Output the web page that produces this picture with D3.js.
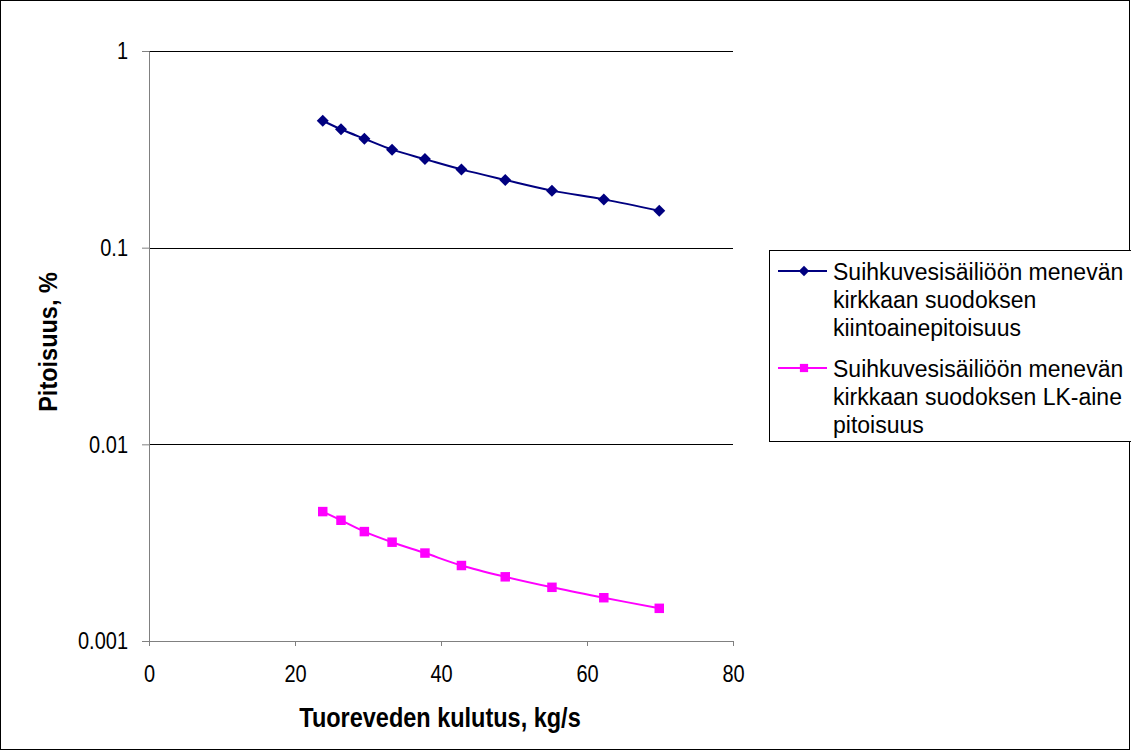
<!DOCTYPE html>
<html>
<head>
<meta charset="utf-8">
<script src="https://cdn.jsdelivr.net/npm/d3@7"></script>
<style>
  body { margin: 0; background: #fff; }
  text { font-family: "Liberation Sans", Arial, sans-serif; }
</style>
</head>
<body>
<div id="wrapper"></div>
<script>
// Values (log y axis)
const flow = [23.8, 26.3, 29.5, 33.3, 37.8, 42.8, 48.8, 55.2, 62.3, 69.9]
const solids = [0.442, 0.400, 0.358, 0.315, 0.282, 0.250, 0.221, 0.195, 0.176, 0.154]
const lkAine = [0.00455, 0.00411, 0.00360, 0.00318, 0.00280, 0.00242, 0.00212, 0.001875, 0.00166, 0.001466]
const xTicks = [0, 20, 40, 60, 80]
const yTicks = [0.001, 0.01, 0.1, 1]
const seriesNames = [
  ["Suihkuvesisäiliöön menevän", "kirkkaan suodoksen", "kiintoainepitoisuus"],
  ["Suihkuvesisäiliöön menevän", "kirkkaan suodoksen LK-aine", "pitoisuus"]
]

const dimensions = {
  width: 1131,
  height: 751,
  margin: { top: 51, right: 398, bottom: 110, left: 149 }
}
dimensions.boundedWidth = dimensions.width - dimensions.margin.left - dimensions.margin.right
dimensions.boundedHeight = dimensions.height - dimensions.margin.top - dimensions.margin.bottom

// the original axis text is a bit taller than it is wide
const tickStretch = 1.2
const titleStretch = 1.2

const wrapper = d3.select('#wrapper').append('svg')
  .attr('width', dimensions.width).attr('height', dimensions.height)

// outer chart border
wrapper.append('rect')
  .attr('x', 0.5).attr('y', 0.5)
  .attr('width', dimensions.width - 2).attr('height', dimensions.height - 2)
  .attr('fill', 'white').attr('stroke', 'black')

const bounds = wrapper.append('g')
  .attr('transform', `translate(${dimensions.margin.left},${dimensions.margin.top})`)

const xScale = d3.scaleLinear().domain([0, 80]).range([0, dimensions.boundedWidth])
const yScale = d3.scaleLog().domain([0.001, 1]).range([dimensions.boundedHeight, 0])

// gridlines
bounds.append('g').selectAll('line')
  .data(yTicks.filter(d => d > 0.001))
  .join('line')
  .attr('x1', 0).attr('x2', dimensions.boundedWidth)
  .attr('y1', d => Math.round(yScale(d)) + 0.5).attr('y2', d => Math.round(yScale(d)) + 0.5)
  .attr('stroke', 'black')

// axes
const yAxis = bounds.append('g')
  .call(d3.axisLeft(yScale).tickValues(yTicks).tickFormat(d3.format('~g')).tickSize(7).tickPadding(14))
const xAxis = bounds.append('g')
  .attr('transform', `translate(0,${dimensions.boundedHeight})`)
  .call(d3.axisBottom(xScale).tickValues(xTicks).tickSize(5))
;[xAxis, yAxis].forEach(ax => {
  ax.select('.domain').attr('stroke', '#808080')
  ax.selectAll('.tick line').attr('stroke', '#808080')
  ax.selectAll('.tick text').attr('fill', 'black')
    .style('font-size', '20px').style('font-family', '"Liberation Sans", Arial, sans-serif')
})
yAxis.selectAll('.tick text').attr('transform', `scale(1,${tickStretch})`)
xAxis.selectAll('.tick text')
  .attr('y', 0)
  .attr('transform', `translate(0,24) scale(1,${tickStretch})`)

// axis titles
wrapper.append('text')
  .attr('transform', `translate(${dimensions.margin.left + dimensions.boundedWidth / 2 - 1},727) scale(1,${titleStretch})`)
  .attr('text-anchor', 'middle')
  .style('font-size', '23.5px').style('font-weight', 'bold')
  .text('Tuoreveden kulutus, kg/s')

wrapper.append('text')
  .attr('transform', `translate(57,342) rotate(-90) scale(1,1.08)`)
  .attr('text-anchor', 'middle')
  .style('font-size', '23.5px').style('font-weight', 'bold')
  .text('Pitoisuus, %')

// series
const series = [
  { values: solids, color: '#000080', symbol: d3.symbolSquare, size: 72, rotate: 45 },
  { values: lkAine, color: '#ff00ff', symbol: d3.symbolSquare, size: 90, rotate: 0 }
]

const lineGen = d3.line()
  .x(d => xScale(d[0]))
  .y(d => yScale(d[1]))
  .curve(d3.curveCatmullRom)

series.forEach(s => {
  const pts = flow.map((f, i) => [f, s.values[i]])
  bounds.append('path')
    .datum(pts)
    .attr('d', lineGen)
    .attr('fill', 'none')
    .attr('stroke', s.color)
    .attr('stroke-width', 2)
  bounds.append('g').selectAll('path')
    .data(pts)
    .join('path')
    .attr('transform', d => `translate(${xScale(d[0])},${yScale(d[1])}) rotate(${s.rotate})`)
    .attr('d', d3.symbol(s.symbol, s.size))
    .attr('fill', s.color)
})

// legend
const legend = wrapper.append('g').attr('transform', 'translate(769,250)')
legend.append('rect')
  .attr('x', 0.5).attr('y', 0.5)
  .attr('width', 380).attr('height', 191)
  .attr('fill', 'white').attr('stroke', 'black')

series.forEach((s, i) => {
  const g = legend.append('g').attr('transform', `translate(0,${21 + i * 97})`)
  g.append('line')
    .attr('x1', 9).attr('x2', 58).attr('y1', 0).attr('y2', 0)
    .attr('stroke', s.color).attr('stroke-width', 2)
  g.append('path')
    .attr('transform', `translate(35,0) rotate(${s.rotate})`)
    .attr('d', d3.symbol(s.symbol, s.size * 0.75))
    .attr('fill', s.color)
  seriesNames[i].forEach((line, j) => {
    g.append('text')
      .attr('x', 64).attr('y', 9 + j * 28)
      .style('font-size', '23px')
      .text(line)
  })
})
</script>
</body>
</html>
